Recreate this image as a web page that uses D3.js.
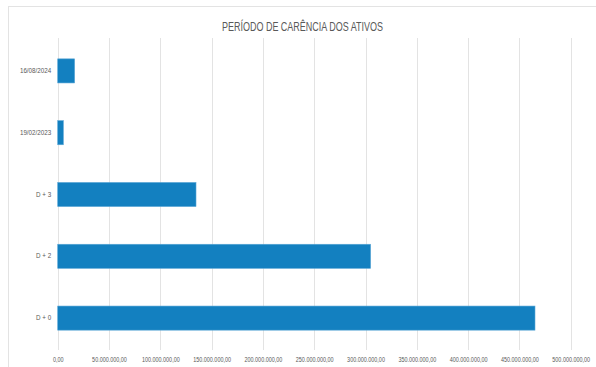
<!DOCTYPE html>
<html>
<head>
<meta charset="utf-8">
<script src="https://cdn.jsdelivr.net/npm/d3@7"></script>
<style>
  html, body { margin: 0; padding: 0; background: #fff; }
  svg { display: block; }
</style>
</head>
<body>
<svg id="chart" width="596" height="367"></svg>
<script>
const categories = ["16/08/2024", "19/02/2023", "D + 3", "D + 2", "D + 0"];
const values = [16500000, 5500000, 134800000, 305000000, 465200000];
const xTicks = [0, 50e6, 100e6, 150e6, 200e6, 250e6, 300e6, 350e6, 400e6, 450e6, 500e6];
const title = "PERÍODO DE CARÊNCIA DOS ATIVOS";

const svg = d3.select("#chart");
const font = "'Liberation Sans', Arial, sans-serif";

function condense(sel, factor) {
  sel.each(function() {
    const w = this.getComputedTextLength();
    d3.select(this).attr("textLength", w * factor).attr("lengthAdjust", "spacingAndGlyphs");
  });
}

// outer chart border
svg.append("rect").attr("x", 8.5).attr("y", 6.5).attr("width", 600).attr("height", 400)
  .attr("fill", "#fff").attr("stroke", "#e3e3e3").attr("stroke-width", 1);

const x = d3.scaleLinear().domain([0, 500e6]).range([57.7, 570.7]);
const y = d3.scaleBand().domain(categories).range([40, 349]).paddingInner(0.61).paddingOuter(0.305);

// gridlines
svg.append("g").selectAll("line").data(xTicks).join("line")
  .attr("x1", d => Math.round(x(d)) + 0.5).attr("x2", d => Math.round(x(d)) + 0.5)
  .attr("y1", 38).attr("y2", 350)
  .attr("stroke", "#e3e3e3").attr("stroke-width", 1);

// bars
svg.append("g").selectAll("rect").data(categories).join("rect")
  .attr("x", x(0))
  .attr("y", d => y(d))
  .attr("width", (d, i) => x(values[i]) - x(0))
  .attr("height", y.bandwidth())
  .attr("fill", "#1380c0")
  .attr("stroke", "#5aa6d6").attr("stroke-width", 0.6);

// x axis labels
const fmt = d => d === 0 ? "0,00" : d3.format(",.2f")(d).replace(/,/g, "#").replace(".", ",").replace(/#/g, ".");
const xAxis = d3.axisBottom(x).tickValues(xTicks).tickSize(0).tickFormat(fmt);
const gx = svg.append("g").attr("transform", "translate(0,353)").call(xAxis);
gx.select(".domain").remove();
gx.selectAll("text").attr("fill", "#595959").style("font-family", font).style("font-size", "6.8px").attr("dy", "0.9em");
condense(gx.selectAll("text"), 0.8);

// y axis labels
const yAxis = d3.axisLeft(y).tickSize(0).tickPadding(6.5);
const gy = svg.append("g").attr("transform", `translate(${x(0)},0)`).call(yAxis);
gy.select(".domain").remove();
gy.selectAll("text").attr("fill", "#595959").style("font-family", font).style("font-size", "6.8px");
condense(gy.selectAll("text"), 0.92);

// title
const t = svg.append("text").attr("x", 302.5).attr("y", 31).attr("text-anchor", "middle")
  .attr("fill", "#595959").style("font-family", font).style("font-size", "12.5px")
  .text(title);
condense(t, 161 / t.node().getComputedTextLength());
</script>
</body>
</html>
